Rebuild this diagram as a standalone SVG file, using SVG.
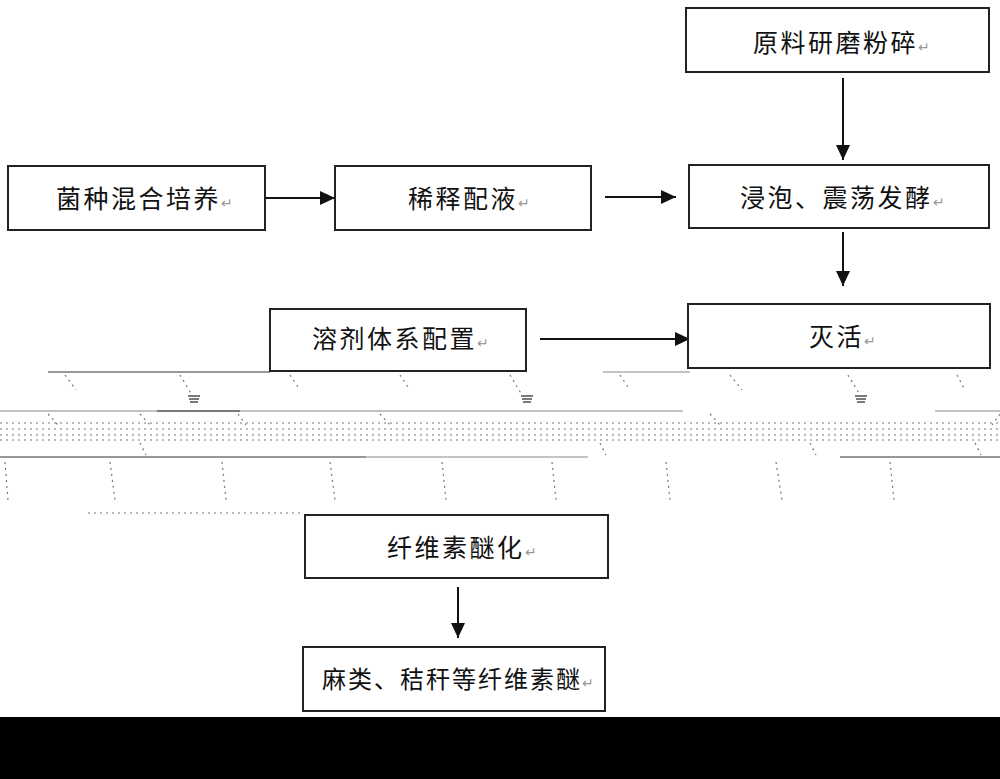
<svg xmlns="http://www.w3.org/2000/svg" width="1000" height="779" viewBox="0 0 1000 779">
<style>
.box{fill:#fff;stroke:#222;stroke-width:2}
.t{font-family:"Noto Sans CJK SC","Noto Sans CJK JP",sans-serif;font-size:25px;letter-spacing:2.5px;fill:#111}
.r{font-size:14px;fill:#999;letter-spacing:0}
.c{stroke:#111;stroke-width:2;fill:none}
.n{stroke:#888;stroke-width:1;fill:none}
.nd{stroke:#333;stroke-width:1.2;fill:none}
.dash{stroke:#777;stroke-width:1.2;fill:none;stroke-dasharray:2 4}
</style>
<defs>
<marker id="ah" markerWidth="15" markerHeight="14" refX="15" refY="7" orient="auto" markerUnits="userSpaceOnUse">
<path d="M0,0 L15,7 L0,14 Z" fill="#111"/>
</marker>
</defs>
<rect x="0" y="0" width="1000" height="779" fill="#fff"/>

<g id="noise">
<line class="nd" x1="48" y1="372" x2="270" y2="372"/>
<line class="n" x1="603" y1="372" x2="690" y2="372"/>
<line class="n" x1="0" y1="411" x2="683" y2="411"/>
<line class="nd" x1="157" y1="411" x2="240" y2="411"/>
<line class="n" x1="935" y1="411" x2="1000" y2="411"/>
<line class="nd" x1="0" y1="457" x2="366" y2="457"/>
<line class="n" x1="366" y1="457" x2="588" y2="457"/>
<line class="nd" x1="840" y1="457" x2="1000" y2="457"/>
<line class="dash" x1="88" y1="513" x2="300" y2="513" stroke="#ccc"/>
<line class="dash" x1="0" y1="423" x2="1000" y2="423" stroke-dasharray="7 6 2 9 10 8" stroke="#999"/>
<line class="dash" x1="0" y1="429" x2="1000" y2="429" stroke-dasharray="4 9 12 6 3 8" stroke="#888"/>
<line class="dash" x1="0" y1="435" x2="1000" y2="435" stroke-dasharray="9 8 3 10 6 7" stroke="#999"/>
<line class="dash" x1="0" y1="440" x2="1000" y2="440" stroke-dasharray="3 10 8 9 5 12" stroke="#aaa"/>
<g class="dash">
<path d="M65,375 L76,390 M180,375 L192,395 M290,375 L300,390 M400,375 L410,390 M510,375 L522,395 M620,375 L630,390 M730,375 L742,390 M848,375 L860,395 M957,375 L965,390"/>
<path d="M48,414 L58,425 M140,414 L150,425 M238,414 L246,425 M380,414 L390,425 M710,414 L720,425 M1000,414 L992,425"/>
<path d="M140,443 L146,455 M600,443 L606,455 M810,443 L816,455 M975,443 L981,455"/>
<path d="M5,462 L8,500 M110,462 L115,500 M222,462 L226,500 M330,462 L335,500 M442,462 L446,500 M552,462 L556,500 M666,462 L670,500 M776,462 L782,500 M890,462 L894,500"/>
</g>
<g stroke="#222" stroke-width="1.2">
<line x1="188" y1="396" x2="200" y2="396"/><line x1="189" y1="399" x2="199" y2="399"/><line x1="190" y1="402" x2="198" y2="402"/>
<line x1="521" y1="396" x2="533" y2="396"/><line x1="522" y1="399" x2="532" y2="399"/><line x1="523" y1="402" x2="531" y2="402"/>
<line x1="855" y1="396" x2="867" y2="396"/><line x1="856" y1="399" x2="866" y2="399"/><line x1="857" y1="402" x2="865" y2="402"/>
</g>
</g>

<g id="connectors">
<line class="c" x1="266" y1="198" x2="335" y2="198" marker-end="url(#ah)"/>
<line class="c" x1="605" y1="197" x2="676" y2="197" marker-end="url(#ah)"/>
<line class="c" x1="843" y1="78" x2="843" y2="160" marker-end="url(#ah)"/>
<line class="c" x1="843" y1="232" x2="843" y2="286" marker-end="url(#ah)"/>
<line class="c" x1="540" y1="339" x2="690" y2="339" marker-end="url(#ah)"/>
<line class="c" x1="458" y1="587" x2="458" y2="638" marker-end="url(#ah)"/>
</g>

<g id="n1"><rect class="box" x="686" y="8" width="303" height="64"/>
<text class="t" x="753" y="52">原料研磨粉碎<tspan class="r">↵</tspan></text></g>
<g id="n2"><rect class="box" x="8" y="166" width="257" height="64"/>
<text class="t" x="56" y="208">菌种混合培养<tspan class="r">↵</tspan></text></g>
<g id="n3"><rect class="box" x="335" y="166" width="256" height="64"/>
<text class="t" x="408" y="208">稀释配液<tspan class="r">↵</tspan></text></g>
<g id="n4"><rect class="box" x="689" y="165" width="300" height="63"/>
<text class="t" x="740" y="207">浸泡、震荡发酵<tspan class="r">↵</tspan></text></g>
<g id="n5"><rect class="box" x="270" y="309" width="256" height="62"/>
<text class="t" x="312" y="348">溶剂体系配置<tspan class="r">↵</tspan></text></g>
<g id="n6"><rect class="box" x="688" y="304" width="302" height="64"/>
<text class="t" x="809" y="346">灭活<tspan class="r">↵</tspan></text></g>
<g id="n7"><rect class="box" x="305" y="515" width="303" height="63"/>
<text class="t" x="387" y="557">纤维素醚化<tspan class="r">↵</tspan></text></g>
<g id="n8"><rect class="box" x="303" y="647" width="302" height="64"/>
<text class="t" x="322" y="688" style="font-size:24px;letter-spacing:2px">麻类、秸秆等纤维素醚<tspan class="r">↵</tspan></text></g>

<rect x="0" y="717" width="1000" height="62" fill="#000"/>
</svg>
